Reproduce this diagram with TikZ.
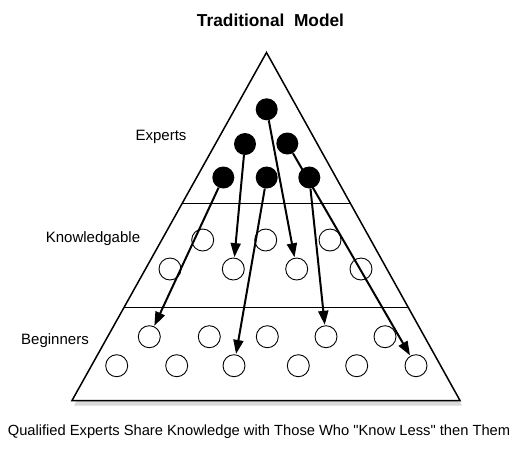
\documentclass[tikz,border=0pt]{standalone}
\usepackage{fontspec}
\setmainfont{Liberation Sans}
\usetikzlibrary{arrows.meta,shadows}

\tikzset{
    expert/.style={circle, fill=black, minimum size=22pt, inner sep=0pt},
    learner/.style={circle, draw, line width=0.9pt, minimum size=22pt, inner sep=0pt},
    share/.style={-{Triangle[length=14pt, width=10pt]}, line width=2pt, shorten >=0.5pt},
    tier/.style={font=\fontsize{15}{18}\selectfont}
}

\begin{document}
\begin{tikzpicture}[x=1pt, y=-1pt]
        \useasboundingbox (0,0) rectangle (530,448);
        \node[font=\bfseries\fontsize{17.3}{20}\selectfont] (title) at (270.5,20) {Traditional\ \ Model};
        \draw[line width=1.5pt, fill=white, drop shadow={shadow xshift=2pt, shadow yshift=-5pt, opacity=0.3}]
            (266.5,52.5) -- (460,400.5) -- (72,400.5) -- cycle;
        \draw[line width=1pt] (182.2,203.3) -- (350.3,203.3);
        \draw[line width=1pt] (123.8,307.5) -- (408.3,307.5);
        \node[tier] (experts) at (161,137) {Experts};
        \node[tier] (knowledgable) at (93,239) {Knowledgable};
        \node[tier] (beginners) at (55,341) {Beginners};
        \node[font=\fontsize{14.7}{18}\selectfont] (caption) at (259,432) {Qualified Experts Share Knowledge with Those Who \textquotedbl Know Less\textquotedbl{} then Them};
        % experts
        \node[expert] (e1) at (266.7,109.3) {};
        \node[expert] (e2) at (245,144) {};
        \node[expert] (e3) at (287.3,143.5) {};
        \node[expert] (e4) at (223.3,177.5) {};
        \node[expert] (e5) at (266.7,177.5) {};
        \node[expert] (e6) at (309.3,177.5) {};
        % knowledgable
        \foreach \x [count=\i] in {202.7, 265.7, 330} {
            \node[learner] (k\i) at (\x,240) {};
        }
        \foreach \x [count=\i from 4] in {170, 233.3, 296.7, 361} {
            \node[learner] (k\i) at (\x,269) {};
        }
        % beginners
        \foreach \x [count=\i] in {149.3, 209.3, 267.3, 326, 385} {
            \node[learner] (b\i) at (\x,336.7) {};
        }
        \foreach \x [count=\i from 6] in {116.7, 176.7, 234, 298.3, 356.7, 416} {
            \node[learner] (b\i) at (\x,365.7) {};
        }
        \draw[share] (e1) -- (k6);
        \draw[share] (e2) -- (k5);
        \draw[share] (e3) -- (b11);
        \draw[share] (e4) -- (b1);
        \draw[share] (e5) -- (b8);
        \draw[share] (e6) -- (b4);
    \end{tikzpicture}
\end{document}
